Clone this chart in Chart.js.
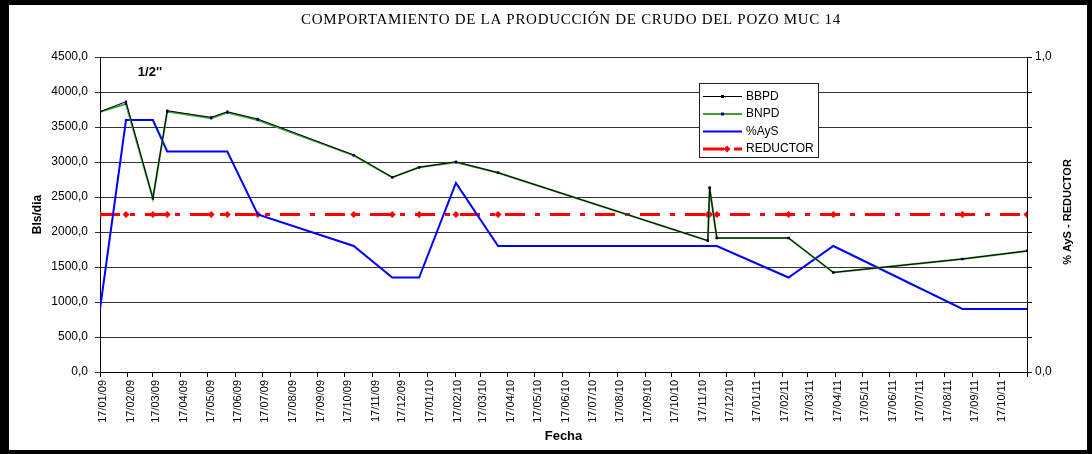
<!DOCTYPE html>
<html>
<head>
<meta charset="utf-8">
<script src="https://cdn.jsdelivr.net/npm/chart.js@4.4.0/dist/chart.umd.min.js"></script>
<style>
  html, body { margin: 0; padding: 0; background: #fff; }
  #wrap { width: 1092px; height: 454px; position: relative; }
</style>
</head>
<body>
<div id="wrap"><canvas id="chart" width="1092" height="454"></canvas></div>
<script>
/* ── Datos ── */
const FECHAS = ['17/01/09','15/02/09','17/03/09','02/04/09','21/05/09','08/06/09','12/07/09',
                '27/10/09','09/12/09','08/01/10','18/02/10','06/04/10','26/11/10','28/11/10',
                '06/12/10','24/02/11','15/04/11','06/09/11','17/11/11'];
const BBPD     = [3718, 3862, 2481, 3733, 3638, 3718, 3614, 3100, 2781, 2924, 3004, 2847, 1876, 2633, 1914, 1914, 1422, 1614, 1729];
const BNPD     = [3718, 3830, 2481, 3720, 3625, 3705, 3600, 3095, 2781, 2924, 2995, 2847, 1876, 2633, 1914, 1914, 1422, 1614, 1729];
const AYS      = [0.20, 0.80, 0.80, 0.70, 0.70, 0.70, 0.50, 0.40, 0.30, 0.30, 0.60, 0.40, 0.40, 0.40, 0.40, 0.30, 0.40, 0.20, 0.20];
const REDUCTOR = [0.50, 0.50, 0.50, 0.50, 0.50, 0.50, 0.50, 0.50, 0.50, 0.50, 0.50, 0.50, 0.50, 0.50, 0.50, 0.50, 0.50, 0.50, 0.50];

const TICK_LABELS = ['17/01/09','17/02/09','17/03/09','17/04/09','17/05/09','17/06/09','17/07/09','17/08/09',
                     '17/09/09','17/10/09','17/11/09','17/12/09','17/01/10','17/02/10','17/03/10','17/04/10',
                     '17/05/10','17/06/10','17/07/10','17/08/10','17/09/10','17/10/10','17/11/10','17/12/10',
                     '17/01/11','17/02/11','17/03/11','17/04/11','17/05/11','17/06/11','17/07/11','17/08/11',
                     '17/09/11','17/10/11'];
const FECHA_FIN = '17/11/11';

const TITULO    = 'COMPORTAMIENTO DE LA PRODUCCIÓN DE CRUDO DEL POZO MUC 14';
const NOTA      = '1/2\'\'';
const EJE_DER   = '% AyS - REDUCTOR';

const SANS  = '"Liberation Sans", Arial, sans-serif';
const SERIF = '"Liberation Serif", "Times New Roman", serif';

/* ── Utilidades ── */
const ORIGEN = Date.UTC(2009, 0, 17);
function dia(f) {
  const [d, m, y] = f.split('/').map(Number);
  return (Date.UTC(2000 + y, m - 1, d) - ORIGEN) / 86400000;
}
function serie(vals) {
  return vals.map((v, i) => ({ x: dia(FECHAS[i]), y: v }));
}
function coma(v) {
  return v.toFixed(1).replace('.', ',');
}

/* ── Plugins de dibujo ── */
const marco = {
  id: 'marco',
  beforeDraw(chart) {
    const c = chart.ctx;
    c.save();
    c.fillStyle = '#fff';
    c.fillRect(0, 0, chart.width, chart.height);
    c.fillStyle = '#000';
    c.textAlign = 'center';
    c.textBaseline = 'middle';
    c.font = '15px ' + SERIF;
    c.letterSpacing = '0.7px';
    c.fillText(TITULO, 571, 20);
    c.letterSpacing = '0px';
    c.font = 'bold 13px ' + SANS;
    c.fillText(NOTA, 150, 72);
    // título del eje derecho, leído de abajo hacia arriba
    c.translate(1068, 212);
    c.rotate(-Math.PI / 2);
    c.font = 'bold 11px ' + SANS;
    c.fillText(EJE_DER, 0, 0);
    c.restore();
  },
  afterDraw(chart) {
    const c = chart.ctx;
    c.save();
    c.fillStyle = '#000';
    c.fillRect(0, 0, chart.width, 5);
    c.fillRect(0, 0, 9, chart.height);
    c.fillRect(0, chart.height - 4, chart.width, 4);
    c.fillRect(chart.width - 5, 0, 5, chart.height);
    c.restore();
  },
};

const leyenda = {
  id: 'leyenda',
  afterDatasetsDraw(chart) {
    const c = chart.ctx;
    const x = 699, y = 83, w = 119, h = 74;
    c.save();
    c.fillStyle = '#fff';
    c.fillRect(x, y, w, h);
    c.strokeStyle = '#222';
    c.lineWidth = 1;
    c.strokeRect(x + 0.5, y + 0.5, w, h);
    c.font = '12px ' + SANS;
    c.textBaseline = 'middle';
    c.textAlign = 'left';
    chart.data.datasets.forEach((ds, i) => {
      const yy = y + 13.5 + i * 17.5;
      c.strokeStyle = ds.borderColor;
      c.lineWidth = ds.borderWidth;
      c.beginPath();
      if (i === 3) {
        c.moveTo(703, yy); c.lineTo(724, yy);
        c.moveTo(734, yy); c.lineTo(742, yy);
      } else {
        c.moveTo(703, yy); c.lineTo(742, yy);
      }
      c.stroke();
      if (i < 2) {
        c.fillStyle = ds.pointBackgroundColor;
        c.fillRect(721, yy - 1.5, 3, 3);
      } else if (i === 3) {
        c.fillStyle = ds.borderColor;
        c.beginPath();
        c.moveTo(727, yy - 3.5); c.lineTo(730.5, yy); c.lineTo(727, yy + 3.5); c.lineTo(723.5, yy);
        c.closePath(); c.fill();
      }
      c.fillStyle = '#000';
      c.fillText(ds.label, 746, yy);
    });
    c.restore();
  },
};

/* ── Gráfico ── */
function initChart() {
  new Chart(document.getElementById('chart'), {
    type: 'line',
    data: {
      datasets: [
        { label: 'BBPD', data: serie(BBPD), yAxisID: 'y',
          borderColor: '#000', borderWidth: 1, pointStyle: 'rect', pointRadius: 1.6,
          pointBackgroundColor: '#000033', pointBorderWidth: 0 },
        { label: 'BNPD', data: serie(BNPD), yAxisID: 'y',
          borderColor: '#3a9f3a', borderWidth: 2, pointStyle: 'rect', pointRadius: 1.6,
          pointBackgroundColor: '#000080', pointBorderWidth: 0 },
        { label: '%AyS', data: serie(AYS), yAxisID: 'y1',
          borderColor: '#0000ff', borderWidth: 2, pointRadius: 0 },
        { label: 'REDUCTOR', data: serie(REDUCTOR), yAxisID: 'y1',
          borderColor: '#ff0000', borderWidth: 3, borderDash: [20, 10, 5, 10],
          pointStyle: 'rectRot', pointRadius: 3.5, pointBackgroundColor: '#ff0000', pointBorderWidth: 0 },
      ],
    },
    options: {
      responsive: false,
      animation: false,
      layout: { padding: { top: 57, left: 0, right: 0, bottom: 0 } },
      plugins: { legend: { display: false }, tooltip: { enabled: false } },
      elements: { line: { tension: 0 } },
      scales: {
        x: {
          type: 'linear',
          min: 0,
          max: dia(FECHA_FIN),
          afterBuildTicks: s => { s.ticks = TICK_LABELS.concat([FECHA_FIN]).map(f => ({ value: dia(f) })); },
          afterFit: s => { s.height = 82; },
          ticks: {
            autoSkip: false, maxRotation: 90, minRotation: 90, padding: 3, labelOffset: 3,
            font: { family: SANS, size: 11 }, color: '#000',
            callback: (v, i) => TICK_LABELS[i] || '',
          },
          grid: { drawOnChartArea: false, tickLength: 5, color: '#000' },
          border: { color: '#000', width: 1 },
          title: { display: true, text: 'Fecha', color: '#000', font: { family: SANS, size: 13, weight: 'bold' },
                   padding: { top: 0, bottom: 10 } },
        },
        y: {
          position: 'left',
          min: 0, max: 4500,
          ticks: { stepSize: 500, padding: 7, font: { family: SANS, size: 12 }, color: '#000', callback: coma },
          afterFit: s => { s.width = 100; },
          grid: { color: '#333', tickLength: 5 },
          border: { color: '#000', width: 1 },
          title: { display: true, text: 'Bls/dia', color: '#000', font: { family: SANS, size: 12, weight: 'bold' },
                   padding: { top: 30, bottom: 0 } },
        },
        y1: {
          position: 'right',
          min: 0, max: 1,
          afterBuildTicks: s => { s.ticks = [0,1,2,3,4,5,6,7,8,9].map(k => ({ value: k / 9 })); },
          afterFit: s => { s.width = 65; },
          ticks: { padding: 3, font: { family: SANS, size: 12 }, color: '#000',
                   callback: v => (v === 0 || v === 1) ? coma(v) : '' },
          grid: { drawOnChartArea: false, tickLength: 5, color: '#000' },
          border: { color: '#000', width: 1 },
          title: { display: false },
        },
      },
    },
    plugins: [marco, leyenda],
  });
}

/* ── Init ── */
document.addEventListener('DOMContentLoaded', initChart);
</script>
</body>
</html>
